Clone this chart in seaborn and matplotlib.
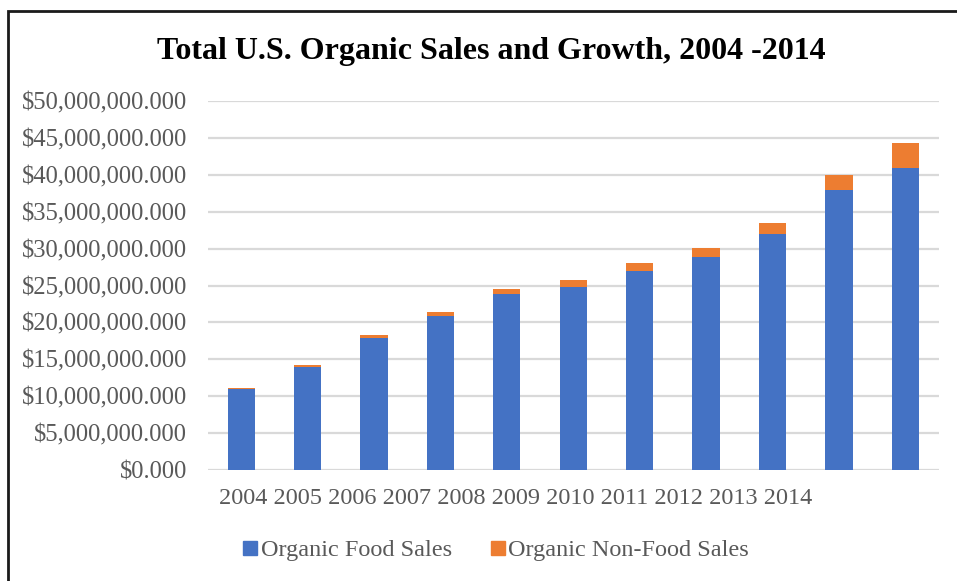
import matplotlib
matplotlib.use("Agg")
import matplotlib.pyplot as plt
from matplotlib.patches import Rectangle
from matplotlib.lines import Line2D
from matplotlib.ticker import FuncFormatter, MultipleLocator
import seaborn as sns
import pandas as pd

# Sales in US dollars
years = ["2004", "2005", "2006", "2007", "2008", "2009",
         "2010", "2011", "2012", "2013", "2014"]
food_sales = [10_950_000, 13_950_000, 17_900_000, 20_900_000, 23_850_000,
              24_800_000, 27_000_000, 28_900_000, 32_000_000, 37_950_000,
              40_900_000]
nonfood_sales = [170_000, 280_000, 400_000, 550_000, 700_000,
                 950_000, 1_100_000, 1_200_000, 1_500_000, 2_000_000,
                 3_400_000]
series_names = ["Organic Food Sales", "Organic Non-Food Sales"]
title = "Total U.S. Organic Sales and Growth, 2004 -2014"

BLUE = "#4472c4"
ORANGE = "#ed7d31"
GREY_TEXT = "#595959"
SERIF = ["Liberation Serif", "DejaVu Serif"]

df = pd.DataFrame({"year": years, "food": food_sales, "nonfood": nonfood_sales})
df["total"] = df["food"] + df["nonfood"]

sns.set_theme(style="white")
plt.rcParams["font.family"] = SERIF

W, H = 957, 581
fig = plt.figure(figsize=(W / 100, H / 100), dpi=100)
fig.patch.set_facecolor("white")

# axes box in pixel terms
left, right, top, bottom = 208, 938.5, 101, 470
ax = fig.add_axes([left / W, 1 - bottom / H, (right - left) / W, (bottom - top) / H])

# stacked bars: total in orange underneath, food in blue in front
sns.barplot(data=df, x="year", y="total", color=ORANGE, width=0.41,
            saturation=1, linewidth=0, ax=ax, zorder=3)
sns.barplot(data=df, x="year", y="food", color=BLUE, width=0.41,
            saturation=1, linewidth=0, ax=ax, zorder=4)

ax.set_ylim(0, 50_000_000)
ax.set_xlim(-0.5, len(years) - 0.5)
ax.yaxis.set_major_locator(MultipleLocator(5_000_000))
ax.yaxis.set_major_formatter(FuncFormatter(lambda v, p: f"${v:,.3f}"))
ax.grid(axis="y", color="#d9d9d9", linewidth=1.6, zorder=0)
ax.set_axisbelow(True)
for s in ax.spines.values():
    s.set_visible(False)
ax.tick_params(axis="y", length=0, pad=15, labelsize=17.7, labelcolor=GREY_TEXT)
ax.set_xticks([])
ax.set_xlabel("")
ax.set_ylabel("")

# year labels run as one line beneath the plot
fig.text(219 / W, 1 - 498 / H, " ".join(years), ha="left", va="center",
         fontsize=17.5, color=GREY_TEXT, family=SERIF)

# title
fig.text(491.5 / W, 1 - 51 / H, title, ha="center", va="center",
         fontsize=23, fontweight="bold", color="black", family=SERIF)

# legend
handles = [Line2D([], [], marker="s", linestyle="none", markersize=10,
                  markerfacecolor=c, markeredgecolor=c)
           for c in (BLUE, ORANGE)]
leg = fig.legend(handles, series_names, loc="center",
                 bbox_to_anchor=(496 / W, 1 - 550 / H), ncol=2, frameon=False,
                 handlelength=0.6, handletextpad=0.12, columnspacing=1.6,
                 prop={"family": SERIF, "size": 17.5})
for t in leg.get_texts():
    t.set_color(GREY_TEXT)

# outer frame
fig.add_artist(Rectangle((8 / W, -0.1), 1.2, 1 - 10.5 / H + 0.1,
                         transform=fig.transFigure, fill=False,
                         edgecolor="#1a1a1a", linewidth=2))

fig.savefig("out.png", dpi=100, facecolor="white")
